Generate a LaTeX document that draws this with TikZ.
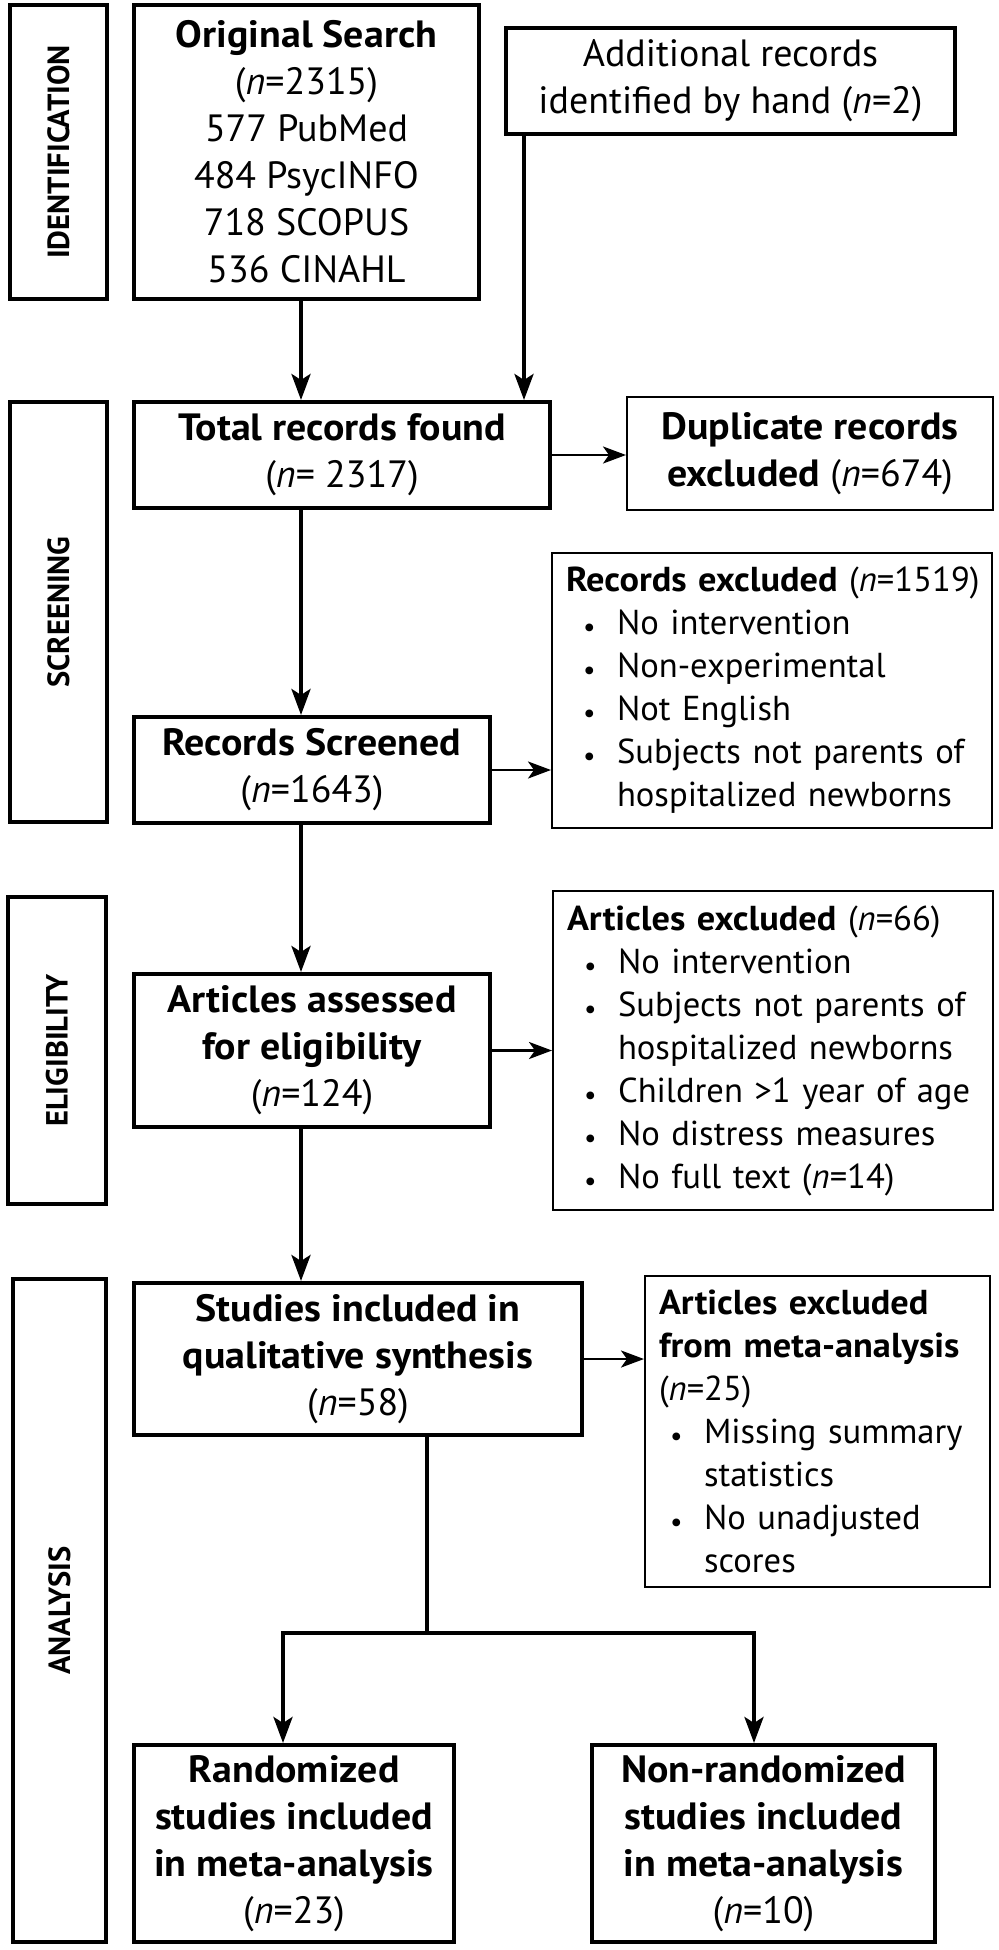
\documentclass[tikz,border=0pt]{standalone}
\usepackage{fontspec}
\setmainfont{PT Sans}[BoldFeatures={FakeStretch=1.05}]
\newfontfamily\sidefont{PT Sans Bold}
\usetikzlibrary{arrows.meta,positioning}

\newcommand{\nn}{\textit{n}}
\newcommand{\bul}[1][8.5pt]{\hspace*{#1}\makebox[17pt][l]{\raisebox{-0.06em}{\scalebox{0.8}{\textbullet}}}}
\newcommand{\cnt}[1][25.5pt]{\hspace*{#1}}

\begin{document}
\begin{tikzpicture}[
        x=0.5pt, y=-0.5pt,
        font=\fontsize{19}{23.5}\selectfont,
        box/.style={draw=black, line width=2pt, align=center, inner sep=4pt},
        exbox/.style={draw=black, line width=1pt, align=left, inner sep=7pt, font=\fontsize{17.3}{21.5}\selectfont},
        phase/.style={draw=black, line width=2pt, inner sep=0pt, rotate=90, font=\sidefont\fontsize{15.3}{18}\selectfont},
        arrow/.style={-{Stealth[length=13pt, width=9.5pt, inset=3pt]}, line width=2pt},
        sidearrow/.style={-{Stealth[length=11.5pt, width=8.5pt, inset=3pt]}, line width=1.3pt},
        line/.style={line width=2pt}
    ]
        \useasboundingbox (0,0) rectangle (998,1950);

        \node[phase, minimum width=147pt, minimum height=48.5pt] (idlab) at (58.5,152) {IDENTIFICATION};
        \node[phase, minimum width=210pt, minimum height=48.5pt] (scrlab) at (58.5,612) {SCREENING};
        \node[phase, minimum width=153.5pt, minimum height=49pt] (elilab) at (57,1050.5) {ELIGIBILITY};
        \node[phase, minimum width=331.5pt, minimum height=46.5pt] (analab) at (59.5,1610.5) {ANALYSIS};

        \node[box, minimum width=172.5pt, minimum height=147pt] (orig) at (306.5,152) {\textbf{Original Search}\\(\nn=2315)\\577 PubMed\\484 PsycINFO\\718 SCOPUS\\536 CINAHL};
        \node[box, minimum width=224.5pt, minimum height=53pt] (add) at (730.5,81) {Additional records\\identified by hand (\nn=2)};
        \node[box, minimum width=208pt, minimum height=53pt] (total) at (342,455) {\textbf{Total records found}\\(\nn= 2317)};
        \node[box, line width=1pt, minimum width=183pt, minimum height=56.5pt] (dup) at (810,453.5) {\textbf{Duplicate records}\\\textbf{excluded} (\nn=674)};
        \node[box, minimum width=178pt, minimum height=53pt] (screened) at (312,770) {\textbf{Records Screened}\\(\nn=1643)};
        \node[exbox, text width=206pt, minimum height=132.5pt] (recex) at (772,690.5) {\mbox{\textbf{Records excluded} (\nn=1519)}\\\bul No intervention\\\bul Non-experimental\\\bul Not English\\\bul Subjects not parents of\\\cnt hospitalized newborns};
        \node[box, minimum width=178pt, minimum height=76.5pt] (assessed) at (312,1050.5) {\textbf{Articles assessed}\\\textbf{for eligibility}\\(\nn=124)};
        \node[exbox, text width=206pt, minimum height=153.5pt] (artex) at (773,1050.5) {\mbox{\textbf{Articles excluded} (\nn=66)}\\\bul No intervention\\\bul Subjects not parents of\\\cnt hospitalized newborns\\\bul Children >1 year of age\\\bul No distress measures\\\bul No full text (\nn=14)};
        \node[box, minimum width=224pt, minimum height=76pt] (studies) at (358,1359) {\textbf{Studies included in}\\\textbf{qualitative synthesis}\\(\nn=58)};
        \node[exbox, text width=158.5pt, minimum height=153.5pt] (metaex) at (817.5,1431.5) {\textbf{Articles excluded}\\\textbf{from meta-analysis}\\(\nn=25)\\\bul[5.5pt]Missing summary\\\cnt[22.5pt]statistics\\\bul[5.5pt]No unadjusted\\\cnt[22.5pt]scores};
        \node[box, minimum width=160pt, minimum height=98.5pt] (rand) at (294,1843.5) {\textbf{Randomized}\\\textbf{studies included}\\\textbf{in meta-analysis}\\(\nn=23)};
        \node[box, minimum width=171.5pt, minimum height=98.5pt] (nonrand) at (763.5,1843.5) {\textbf{Non-randomized}\\\textbf{studies included}\\\textbf{in meta-analysis}\\(\nn=10)};

        \coordinate (split) at (427,1633);

        \draw[arrow] ([xshift=-2.75pt]orig.south) -- ([xshift=-2.75pt]orig.south |- total.north);
        \draw[arrow] ([xshift=10pt]add.south west) -- ([xshift=10pt]add.south west |- total.north);
        \draw[sidearrow] (total.east) -- (total.east -| dup.west);
        \draw[arrow] ([xshift=-20.5pt]total.south) -- ([xshift=-20.5pt]total.south |- screened.north);
        \draw[sidearrow] (screened.east) -- (screened.east -| recex.west);
        \draw[arrow] ([xshift=-5.5pt]screened.south) -- ([xshift=-5.5pt]screened.south |- assessed.north);
        \draw[sidearrow] (assessed.east) -- (assessed.east -| artex.west);
        \draw[arrow] ([xshift=-5.5pt]assessed.south) -- ([xshift=-5.5pt]assessed.south |- studies.north);
        \draw[sidearrow] (studies.east) -- (studies.east -| metaex.west);
        \draw[line] ([xshift=34.5pt]studies.south) -- (split);
        \draw[arrow] (split) -| ([xshift=-5.5pt]rand.north);
        \draw[arrow] (split) -| ([xshift=-4.75pt]nonrand.north);
    \end{tikzpicture}
\end{document}
